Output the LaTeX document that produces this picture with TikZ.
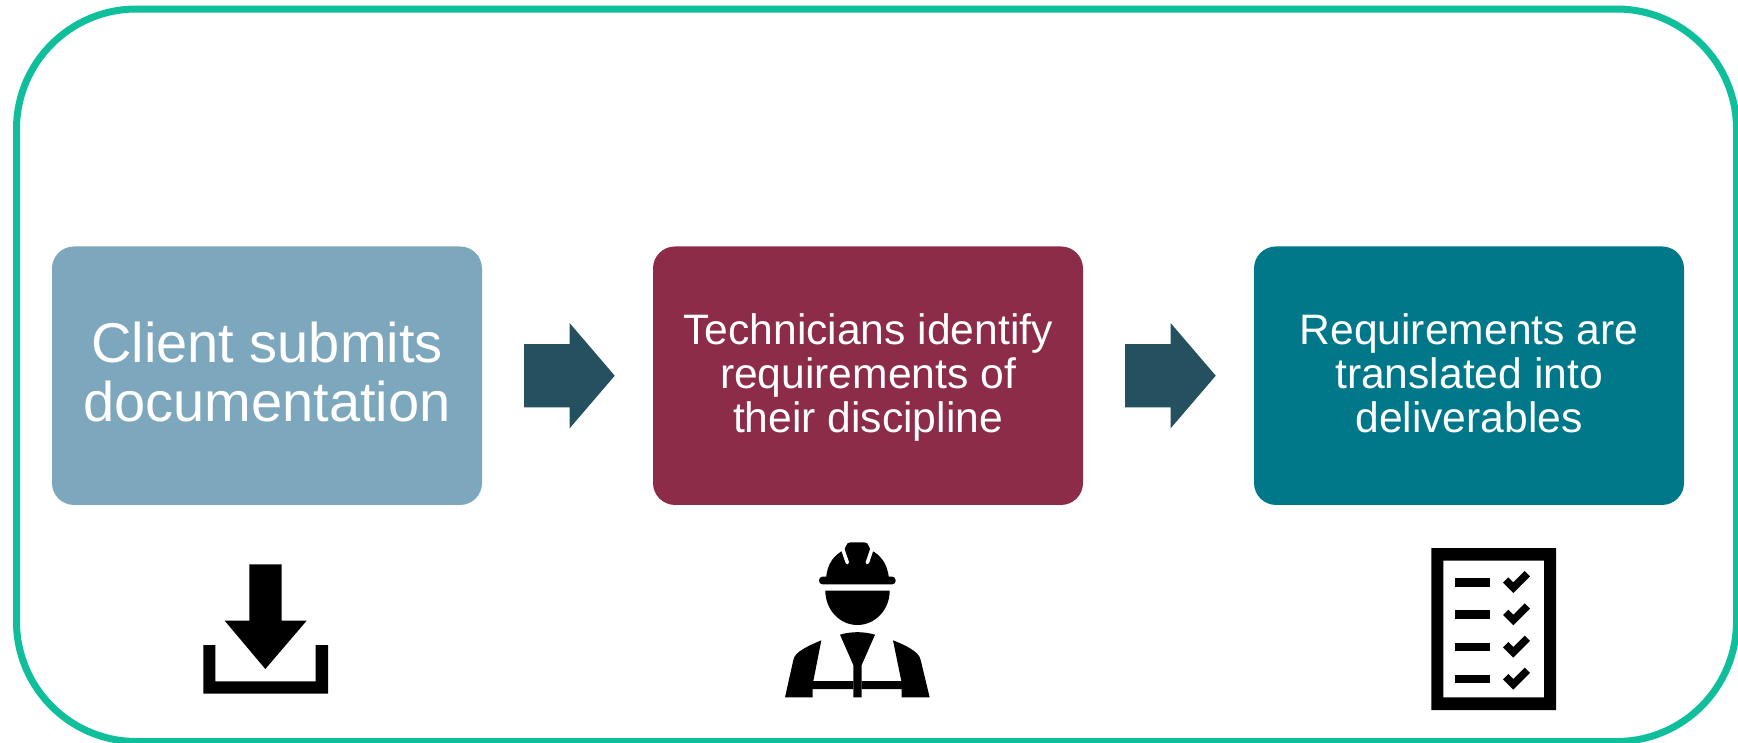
\documentclass[tikz,border=0pt]{standalone}
\usepackage{fontspec}
\setmainfont{Liberation Sans}
\usetikzlibrary{shapes.arrows}
\definecolor{frameC}{HTML}{0FBF9C}
\definecolor{boxA}{HTML}{7DA7BD}
\definecolor{boxB}{HTML}{8C2C48}
\definecolor{boxC}{HTML}{00788A}
\definecolor{arrowC}{HTML}{24505F}
\newcommand{\topgap}[1]{\rule{0pt}{#1}}
\newcommand{\botgap}[1]{\rule[-#1]{0pt}{#1}}
\tikzset{
  stepbox/.style={rounded corners=22pt,minimum width=430pt,minimum height=258.5pt,inner sep=0pt,align=center,text=white},
  bigtext/.style={font=\fontsize{56}{59}\selectfont},
  smalltext/.style={font=\fontsize{42.6}{44.3}\selectfont},
  blockarrow/.style={single arrow,fill=arrowC,minimum height=90.7pt,minimum width=105pt,single arrow head extend=21pt,single arrow head indent=0pt,single arrow tip angle=98.8,inner sep=0pt,anchor=tip},
  icon/.style={fill=black,draw=none},
  zoomed/.style={x=0.33333pt,y=-0.33333pt}
}
\begin{document}
\begin{tikzpicture}[x=1pt,y=-1pt]
\useasboundingbox (0,0) rectangle (1738,742);
\clip (0,0) rectangle (1738,742);
\fill[white] (0,0) rectangle (1738,742);
\draw[frameC,line width=7pt,rounded corners=120pt] (16.5,9) rectangle (1736.5,741.5);
\node[stepbox,fill=boxA,bigtext] (b1) at (267,375.7) {\topgap{46pt}Client submits\\documentation\botgap{13pt}};
\node[stepbox,fill=boxB,smalltext] (b2) at (868,375.7) {\topgap{37.2pt}Technicians identify\\requirements of\\their discipline\botgap{12pt}};
\node[stepbox,fill=boxC,smalltext] (b3) at (1469,375.7) {\topgap{37.2pt}Requirements are\\translated into\\deliverables\botgap{12pt}};
\node[blockarrow] (a1) at (615,375.7) {\rule{0pt}{63pt}};
\node[blockarrow] (a2) at (1216,375.7) {\rule{0pt}{63pt}};
% download icon
\begin{scope}[shift={(180,540)},zoomed]
\fill[icon] (208,73) -- (305,73) -- (305,242) -- (380,242) -- (256,387) -- (134,242) -- (208,242) -- cycle;
\fill[icon] (70,315) -- (106,315) -- (106,424) -- (407,424) -- (407,315) -- (444,315) -- (444,461) -- (70,461) -- cycle;
\end{scope}
% worker icon
\begin{scope}[shift={(740,520)},zoomed]
\fill[icon] (258,175) .. controls (262,130) and (282,105) .. (312,90) -- (318,78) .. controls (320,70) and (325,67) .. (332,67) -- (372,67) .. controls (380,67) and (384,70) .. (386,78) -- (392,90) .. controls (422,105) and (442,130) .. (447,175) -- cycle;
\draw[white,line width=3.5pt,line cap=round] (307,84) -- (322,128);
\draw[white,line width=3.5pt,line cap=round] (397,84) -- (382,128);
\fill[icon,rounded corners=3.5pt] (237,170) rectangle (467,193);
\fill[icon] (256,212) -- (449,212) .. controls (449,270) and (405,315) .. (352,315) .. controls (300,315) and (256,270) .. (256,212) -- cycle;
\fill[icon] (300,344) .. controls (335,334) and (370,334) .. (405,344) -- (365,435) -- (365,532) -- (340,532) -- (340,435) -- cycle;
\fill[icon] (244,361) -- (220,483) -- (340,483) -- (340,507) -- (218,507) -- (218,532) -- (135,532) -- (160,420) .. controls (163,395) and (210,375) .. (244,361) -- cycle;
\fill[icon] (459,361) -- (484,483) -- (365,483) -- (365,507) -- (485,507) -- (485,532) -- (569,532) -- (542,420) .. controls (538,395) and (495,375) .. (459,361) -- cycle;
\end{scope}
% checklist icon
\begin{scope}[shift={(1400,530)},zoomed]
\fill[icon,even odd rule] (94,54) rectangle (468,540) (130,92) rectangle (432,502);
\foreach \yy in {157,254,351,447}{
  \fill[icon] (166,\yy-13) rectangle (269,\yy+13);
  \draw[black,line width=7.5pt] (317,\yy-7) -- (340,\yy+16) -- (382,\yy-26);
}
\end{scope}
\end{tikzpicture}
\end{document}
